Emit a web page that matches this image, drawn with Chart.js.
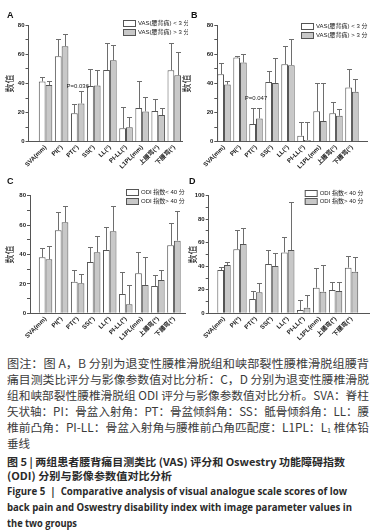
<!DOCTYPE html>
<html>
<head>
<meta charset="utf-8">
<script src="https://cdn.jsdelivr.net/npm/chart.js@4.4.0/dist/chart.umd.min.js"></script>
<style>
  html, body { margin: 0; padding: 0; background: #fff; }
  body { width: 376px; height: 532px; position: relative; overflow: hidden; font-family: "Noto Sans CJK SC", sans-serif; }
  canvas { position: absolute; }
  .tag { position: absolute; font: bold 9px "Liberation Sans", Arial, sans-serif; line-height: 9px; color: #111; }
  .ln { position: absolute; left: 7px; white-space: nowrap; transform-origin: 0 50%; }
  .note { font-size: 11.5px; line-height: 16px; color: #3a3a3a; }
  .ttl { font-size: 10.5px; line-height: 14px; color: #2a2a2a; font-weight: bold; }
  .eng { font-family: "Open Sans", "Noto Sans", sans-serif; font-size: 10.5px; line-height: 15px; color: #2a2a2a; font-weight: bold; }
  sub { font-size: 7px; vertical-align: -1px; }
</style>
</head>
<body>
<canvas id="chartA" width="188" height="172" style="left:0;top:0"></canvas>
<canvas id="chartB" width="200" height="172" style="left:176px;top:0"></canvas>
<canvas id="chartC" width="188" height="172" style="left:0;top:170px"></canvas>
<canvas id="chartD" width="194" height="172" style="left:182px;top:170px"></canvas>

<div class="tag" style="left:7px;top:11px">A</div>
<div class="tag" style="left:191px;top:11px">B</div>
<div class="tag" style="left:7px;top:177px">C</div>
<div class="tag" style="left:189px;top:177px">D</div>

<div class="ln note" style="top:355px" data-w="362">图注：图 A，B 分别为退变性腰椎滑脱组和峡部裂性腰椎滑脱组腰背</div>
<div class="ln note" style="top:371px" data-w="362">痛目测类比评分与影像参数值对比分析：C，D 分别为退变性腰椎滑脱</div>
<div class="ln note" style="top:387px" data-w="362">组和峡部裂性腰椎滑脱组 ODI 评分与影像参数值对比分析。SVA：脊柱</div>
<div class="ln note" style="top:403px" data-w="362">矢状轴：PI：骨盆入射角：PT：骨盆倾斜角：SS：骶骨倾斜角：LL：腰</div>
<div class="ln note" style="top:419px" data-w="362">椎前凸角：PI-LL：骨盆入射角与腰椎前凸角匹配度：L1PL：L<sub>1</sub> 椎体铅</div>
<div class="ln note" style="top:435px">垂线</div>
<div class="ln ttl" style="top:454.5px" data-w="338">图 5 | 两组患者腰背痛目测类比 (VAS) 评分和 Oswestry 功能障碍指数</div>
<div class="ln ttl" style="top:468.5px" data-w="165">(ODI) 分别与影像参数值对比分析</div>
<div class="ln eng" style="top:484px" data-w="340">Figure 5 &nbsp;| &nbsp;Comparative analysis of visual analogue scale scores of low</div>
<div class="ln eng" style="top:500px" data-w="345">back pain and Oswestry disability index with image parameter values in</div>
<div class="ln eng" style="top:515.5px" data-w="70">the two groups</div>

<script>
// categories on the x axis (same for all four panels)
const categories = ['SVA(mm)', 'PI(°)', 'PT(°)', 'SS(°)', 'LL(°)', 'PI-LL(°)', 'L1PL(mm)', '上腰弯(°)', '下腰弯(°)'];

// A: degenerative group, VAS
const vasLowA = [41.4, 58.7, 19.5, 38.2, 49.2, 9.2, 23.2, 21.1, 49.1];
const vasLowSdA = [3.2, 12.2, 6.3, 11.8, 18.5, 14.8, 18.8, 8.1, 18.4];
const vasHighA = [38.9, 65.6, 26.3, 38.6, 55.9, 9.9, 20.8, 18.3, 45.6];
const vasHighSdA = [2.5, 8.7, 8.4, 11.0, 10.5, 6.9, 10.1, 4.7, 16.2];

// B: isthmic group, VAS
const vasLowB = [46.4, 57.8, 12.1, 41.1, 53.3, 4.1, 21.0, 19.5, 37.3];
const vasLowSdB = [7.7, 0.9, 10.8, 7.6, 12.7, 9.2, 19.4, 7.5, 12.5];
const vasHighB = [39.3, 54.4, 16.0, 40.4, 52.6, 1.2, 14.2, 17.8, 34.3];
const vasHighSdB = [2.3, 5.7, 6.9, 16.8, 18.3, 12.1, 26.2, 4.6, 8.5];

// C: degenerative group, ODI
const odiLowC = [38.1, 56.5, 21.5, 34.9, 43.1, 13.2, 27.2, 18.6, 46.3];
const odiLowSdC = [6.1, 12.2, 7.7, 10.0, 15.4, 14.7, 14.5, 7.3, 15.2];
const odiHighC = [36.7, 61.9, 20.4, 41.5, 55.8, 6.1, 19.3, 22.7, 49.4];
const odiHighSdC = [9.1, 10.9, 6.1, 11.3, 17.2, 12.9, 18.8, 6.8, 20.0];

// D: isthmic group, ODI
const odiLowD = [36.8, 54.4, 12.2, 41.9, 51.8, 2.8, 21.8, 19.8, 38.8];
const odiLowSdD = [2.9, 16.4, 7.1, 11.9, 12.8, 8.5, 16.4, 7.1, 9.9];
const odiHighD = [41.1, 58.9, 17.8, 40.2, 53.8, 4.8, 18.4, 19.0, 35.4];
const odiHighSdD = [2.8, 13.3, 7.7, 10.8, 40.5, 10.8, 22.7, 7.9, 12.2];

const vasLabels = ['VAS(腰背痛) < 3 分', 'VAS(腰背痛) > 3 分'];
const odiLabels = ['ODI 指数< 40 分', 'ODI 指数> 40 分'];
const yMaxVas = 80;
const yMaxOdi = 100;

const FONT = '"Liberation Sans", "Noto Sans CJK SC", sans-serif';
const CJK = '"Noto Sans CJK SC", sans-serif';

// error bars: line from bar top up to mean + sd, with a small cap
const errorBars = {
    id: 'errorBars',
    afterDatasetsDraw(chart) {
        const { ctx, scales: { y } } = chart;
        ctx.save();
        ctx.strokeStyle = '#6e6e6e';
        ctx.lineWidth = 1;
        chart.data.datasets.forEach((ds, d) => {
            chart.getDatasetMeta(d).data.forEach((bar, i) => {
                const x = Math.round(bar.x) + 0.5;
                const top = Math.round(y.getPixelForValue(ds.data[i].y + ds.errors[i])) + 0.5;
                ctx.beginPath();
                ctx.moveTo(x, bar.y);
                ctx.lineTo(x, top);
                ctx.moveTo(x - 2.5, top);
                ctx.lineTo(x + 2.5, top);
                ctx.stroke();
            });
        });
        ctx.restore();
    }
};

// legend drawn with boxes like the original figure
const boxLegend = {
    id: 'boxLegend',
    afterDraw(chart, args, opts) {
        const ctx = chart.ctx;
        ctx.save();
        chart.data.datasets.forEach((ds, i) => {
            const y = Math.round(opts.y + i * opts.gap);
            ctx.fillStyle = ds.backgroundColor;
            ctx.fillRect(opts.x, y, 12, 6);
            ctx.strokeStyle = '#555';
            ctx.lineWidth = 1;
            ctx.strokeRect(opts.x + 0.5, y + 0.5, 12, 6);
            ctx.fillStyle = '#222';
            ctx.font = '6px ' + FONT;
            ctx.textBaseline = 'middle';
            ctx.fillText(ds.label, opts.x + 15, y + 3.5);
        });
        ctx.restore();
    }
};

// P value note above the PT bars
const pNote = {
    id: 'pNote',
    afterDatasetsDraw(chart, args, opts) {
        if (!opts.text) return;
        const { ctx, scales: { x, y } } = chart;
        ctx.save();
        ctx.font = '6px ' + FONT;
        ctx.fillStyle = '#222';
        ctx.textAlign = 'center';
        ctx.textBaseline = 'middle';
        ctx.fillText(opts.text, x.getPixelForValue(opts.index), y.getPixelForValue(opts.value));
        ctx.restore();
    }
};

function toPoints(values) {
    return values.map((v, i) => ({ x: i, y: v }));
}

function makePanel(id, low, lowSd, high, highSd, labels, cfg) {
    return new Chart(document.getElementById(id), {
        type: 'bar',
        data: {
            datasets: [
                { label: labels[0], data: toPoints(low), errors: lowSd, backgroundColor: '#ffffff', borderColor: '#555', borderWidth: 1 },
                { label: labels[1], data: toPoints(high), errors: highSd, backgroundColor: '#c8c8c8', borderColor: '#555', borderWidth: 1 }
            ]
        },
        options: {
            responsive: false,
            animation: false,
            layout: { padding: cfg.padding },
            datasets: { bar: { categoryPercentage: 0.84, barPercentage: 1.0 } },
            plugins: {
                legend: { display: false },
                tooltip: { enabled: false },
                boxLegend: cfg.legend,
                pNote: cfg.note || {}
            },
            scales: {
                x: {
                    type: 'linear',
                    min: cfg.xMin,
                    max: cfg.xMax,
                    offset: false,
                    grid: { display: true, drawOnChartArea: false, drawTicks: false, offset: false },
                    border: { color: '#555' },
                    afterBuildTicks: s => { s.ticks = categories.map((c, i) => ({ value: i })); },
                    afterFit: s => { s.height = cfg.xHeight; },
                    ticks: {
                        autoSkip: false,
                        minRotation: 45,
                        maxRotation: 45,
                        padding: 2,
                        color: '#222',
                        font: { family: FONT, size: 6.2, weight: 'bold' },
                        callback: v => categories[v]
                    }
                },
                y: {
                    min: 0,
                    max: cfg.yMax,
                    afterFit: s => { s.width = cfg.yWidth; },
                    grid: { drawOnChartArea: false, drawTicks: true, tickLength: 3, color: '#555', tickColor: '#555' },
                    border: { color: '#555' },
                    ticks: {
                        stepSize: 10,
                        padding: 1,
                        color: '#222',
                        font: { family: FONT, size: 6, weight: 'bold' },
                        callback: v => (v % 20 === 0 ? v : '')
                    },
                    title: {
                        display: true,
                        text: '数值',
                        color: '#222',
                        font: { family: CJK, size: 9 },
                        padding: { top: cfg.titlePad, bottom: 0 }
                    }
                }
            }
        },
        plugins: [errorBars, boxLegend, pNote]
    });
}

makePanel('chartA', vasLowA, vasLowSdA, vasHighA, vasHighSdA, vasLabels, {
    padding: { left: 0, top: 25.3, right: 6, bottom: 0 },
    yWidth: 28.5, xHeight: 30.3, xMin: -1.06, xMax: 8.48, yMax: yMaxVas, titlePad: 4.6,
    legend: { x: 123, y: 20, gap: 8.7 },
    note: { text: 'P=0.036', index: 2, value: 38.2 }
});

makePanel('chartB', vasLowB, vasLowSdB, vasHighB, vasHighSdB, vasLabels, {
    padding: { left: 0, top: 25.3, right: 9, bottom: 0 },
    yWidth: 41.3, xHeight: 30.3, xMin: -0.42, xMax: 8.94, yMax: yMaxVas, titlePad: 5.6,
    legend: { x: 125, y: 23, gap: 8.5 },
    note: { text: 'P=0.047', index: 2, value: 30 }
});

makePanel('chartC', odiLowC, odiLowSdC, odiHighC, odiHighSdC, odiLabels, {
    padding: { left: 0, top: 25.7, right: 3, bottom: 0 },
    yWidth: 30, xHeight: 28.7, xMin: -0.97, xMax: 8.69, yMax: yMaxVas, titlePad: 4.6,
    legend: { x: 126, y: 19, gap: 8.7 }
});

makePanel('chartD', odiLowD, odiLowSdD, odiHighD, odiHighSdD, odiLabels, {
    padding: { left: 0, top: 25.7, right: 6.3, bottom: 0 },
    yWidth: 26.7, xHeight: 28.7, xMin: -0.96, xMax: 9.14, yMax: yMaxOdi, titlePad: 5.6,
    legend: { x: 122.7, y: 20, gap: 7.5 }
});

// stretch caption lines to the widths of the original text block
document.querySelectorAll('.ln').forEach(el => {
    const target = +el.dataset.w;
    const w = el.getBoundingClientRect().width;
    if (target && w) el.style.transform = `scaleX(${target / w})`;
});
</script>
</body>
</html>
